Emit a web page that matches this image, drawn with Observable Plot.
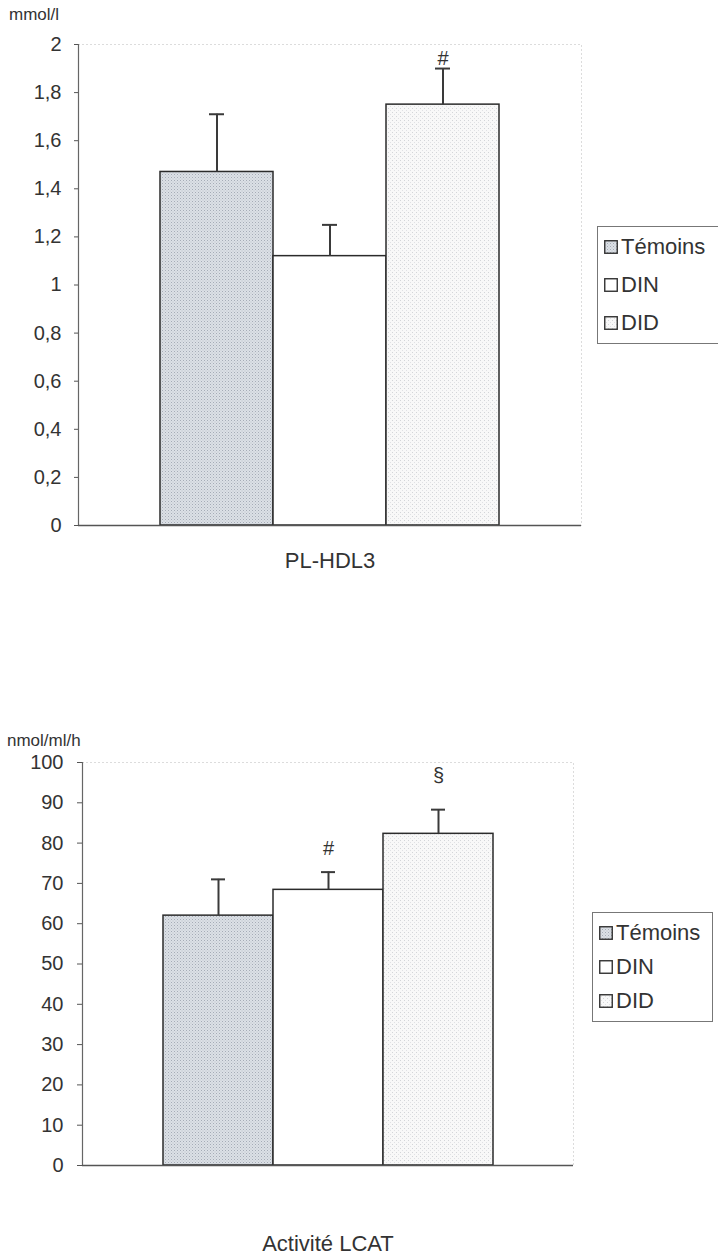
<!DOCTYPE html>
<html>
<head>
<meta charset="utf-8">
<script src="https://cdn.jsdelivr.net/npm/d3@7"></script>
<script src="https://cdn.jsdelivr.net/npm/@observablehq/plot@0.6"></script>
<style>
  html, body { margin: 0; padding: 0; background: #fff; }
  body { width: 718px; height: 1258px; position: relative; overflow: hidden;
         font-family: "Liberation Sans", Arial, sans-serif; color: #333; }
  .panel { position: absolute; left: 0; width: 718px; }
  .unit { position: absolute; font-size: 17px; color: #333; }
  .legend { position: absolute; border: 1px solid #777; background: #fff;
            font-size: 22px; color: #333; box-sizing: border-box; padding-left: 6px; }
  .legend .item { display: flex; align-items: center; white-space: nowrap; }
  .legend svg { margin-right: 3px; }
</style>
</head>
<body>
<svg width="0" height="0" style="position:absolute">
  <defs>
    <pattern id="patT" width="3" height="3" patternUnits="userSpaceOnUse">
      <rect width="3" height="3" fill="#dce0e6"></rect>
      <rect x="0" y="0" width="1" height="1" fill="#a5acb6"></rect>
      <rect x="1.5" y="1.5" width="1" height="1" fill="#bac0c9"></rect>
    </pattern>
    <pattern id="patD" width="4" height="4" patternUnits="userSpaceOnUse">
      <rect width="4" height="4" fill="#f8f8f8"></rect>
      <rect x="0" y="0" width="1" height="1" fill="#d3d5d8"></rect>
      <rect x="2" y="2" width="1" height="1" fill="#e0e1e4"></rect>
    </pattern>
  </defs>
</svg>

<div class="panel" id="p1" style="top:0px;height:600px">
  <div class="unit" style="left:9px;top:5px">mmol/l</div>
</div>
<div class="panel" id="p2" style="top:700px;height:558px">
  <div class="unit" style="left:7px;top:31px">nmol/ml/h</div>
</div>

<script>
// ---- data ----
const groups = ["Témoins", "DIN", "DID"];
const fills = ["url(#patT)", "#ffffff", "url(#patD)"];

const hdlIndicator = "PL-HDL3";
const hdlMean = [1.47, 1.12, 1.75];
const hdlSd = [0.24, 0.13, 0.15];
const hdlMarks = ["", "", "#"];
const hdlTicks = [0, 0.2, 0.4, 0.6, 0.8, 1, 1.2, 1.4, 1.6, 1.8, 2];

const lcatIndicator = "Activité LCAT";
const lcatMean = [62.0, 68.4, 82.3];
const lcatSd = [9.0, 4.4, 6.0];
const lcatMarks = ["", "#", "§"];
const lcatTicks = [0, 10, 20, 30, 40, 50, 60, 70, 80, 90, 100];

function rows(indicator, mean, sd, marks) {
  return groups.map((g, i) => ({indicator, group: g, mean: mean[i], top: mean[i] + sd[i], mark: marks[i]}));
}

const frFmt = d => String(d).replace(".", ",");
const FONT = "'Liberation Sans', Arial, sans-serif";

function chart({data, domain, ticks, height, marginTop, marginBottom, marginLeft, marginRight,
                labelPad, markOffsets, tickPadding, tickSize, capInset, outer}) {
  const marks = [
    Plot.frame({stroke: "#b8b8b8", strokeDasharray: "1,3"}),
    Plot.barY(data, {fx: "indicator", x: "group", y: "mean", fill: "group", stroke: "#2b2b2b", strokeWidth: 1.5}),
    Plot.ruleX(data, {fx: "indicator", x: "group", y1: "mean", y2: "top", stroke: "#3a3a3a", strokeWidth: 2}),
    Plot.tickY(data, {fx: "indicator", x: "group", y: "top", stroke: "#3a3a3a", strokeWidth: 2, insetLeft: capInset, insetRight: capInset}),
    Plot.frame({anchor: "left", stroke: "#666", strokeWidth: 1.2}),
    Plot.ruleY([0], {stroke: "#555", strokeWidth: 1.3}),
    Plot.axisY({ticks, tickFormat: frFmt, tickSize, tickPadding, fontSize: 20, label: null, stroke: "#555", fill: "#333"}),
    Plot.axisFx({anchor: "bottom", tickSize: 0, tickPadding: labelPad, fontSize: 22, label: null, fill: "#333"}),
  ];
  groups.forEach((g, i) => {
    marks.push(Plot.text(data.filter(d => d.mark && d.group === g),
      {fx: "indicator", x: "group", y: "top", text: "mark", dy: markOffsets[i], fontSize: 20, fill: "#333"}));
  });
  return Plot.plot({
    width: 718, height, marginTop, marginBottom, marginLeft, marginRight,
    style: {fontFamily: FONT, fontSize: "20px", color: "#333", background: "transparent"},
    fx: {padding: 0},
    x: {domain: groups, paddingInner: 0, paddingOuter: outer, axis: null},
    y: {domain},
    color: {domain: groups, range: fills},
    marks
  });
}

const c1 = chart({
  data: rows(hdlIndicator, hdlMean, hdlSd, hdlMarks),
  domain: [0, 2], ticks: hdlTicks, height: 600,
  marginTop: 44, marginBottom: 75, marginLeft: 78, marginRight: 137,
  labelPad: 27, markOffsets: [0, 0, -10], tickPadding: 13, tickSize: 4, capInset: 49, outer: 0.71
});
const c2 = chart({
  data: rows(lcatIndicator, lcatMean, lcatSd, lcatMarks),
  domain: [0, 100], ticks: lcatTicks, height: 558,
  marginTop: 62, marginBottom: 93, marginLeft: 82, marginRight: 145,
  labelPad: 70, markOffsets: [0, -24, -34], tickPadding: 14, tickSize: 5, capInset: 48, outer: 0.72
});

for (const svg of [c1, c2]) {
  svg.style.position = "absolute";
  svg.style.left = "0px";
  svg.style.top = "0px";
}
document.getElementById("p1").appendChild(c1);
document.getElementById("p2").appendChild(c2);

function legend(parentId, left, top, width, height, itemH) {
  const div = document.createElement("div");
  div.className = "legend";
  Object.assign(div.style, {left: left + "px", top: top + "px", width: width + "px", height: height + "px",
    paddingTop: ((height - 2 - itemH * groups.length) / 2) + "px"});
  groups.forEach((g, i) => {
    const it = document.createElement("div");
    it.className = "item";
    it.style.height = itemH + "px";
    it.innerHTML = `<svg width="14" height="14"><rect x="0.75" y="0.75" width="12.5" height="12.5" fill="${fills[i]}" stroke="#333" stroke-width="1.4"></rect></svg><span>${g}</span>`;
    div.appendChild(it);
  });
  document.getElementById(parentId).appendChild(div);
}
legend("p1", 597, 226, 130, 118, 38);
legend("p2", 592, 212, 121, 110, 34);
</script>
</body>
</html>
